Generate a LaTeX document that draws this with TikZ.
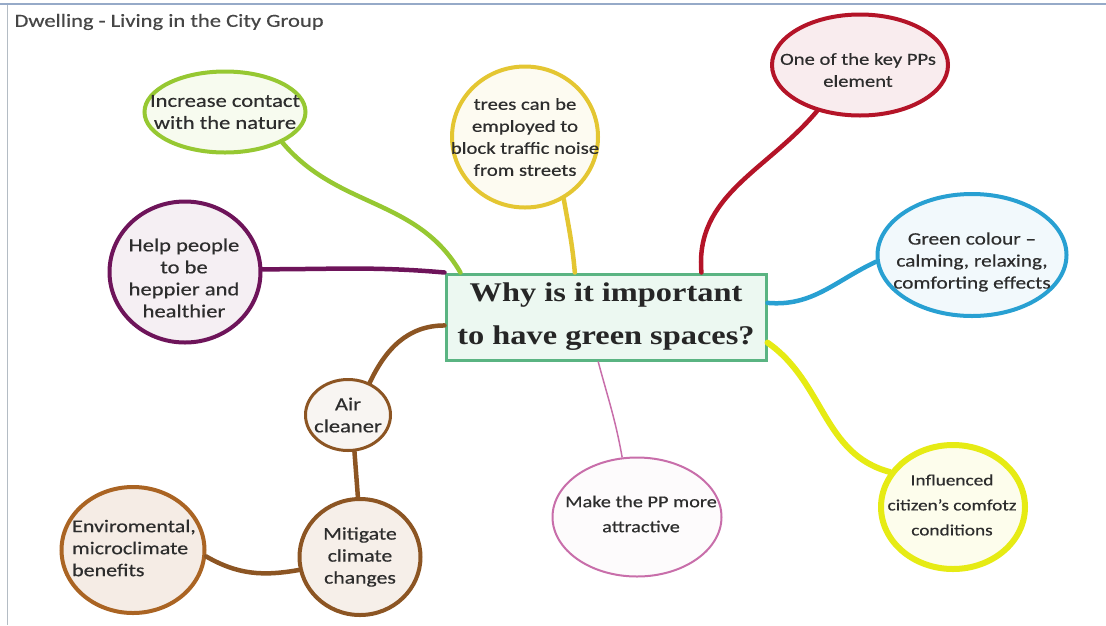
\documentclass[tikz,border=0pt]{standalone}
\usepackage{fontspec}
\usetikzlibrary{shapes.geometric}
\newfontfamily\handfont[FakeStretch=1.22, FakeBold=0.4]{Carlito}
\newfontfamily\headfont[FakeStretch=1.2]{Liberation Serif}
\definecolor{inkgray}{RGB}{45,45,45}
\definecolor{titlegray}{RGB}{70,70,70}
\definecolor{framegray}{RGB}{180,188,196}
\definecolor{frameblue}{RGB}{150,170,200}
\definecolor{boxgreen}{RGB}{90,180,130}
\definecolor{boxfill}{RGB}{236,248,241}
\definecolor{leafgreen}{RGB}{150,200,50}
\definecolor{gold}{RGB}{228,198,50}
\definecolor{berry}{RGB}{180,20,40}
\definecolor{sky}{RGB}{40,160,210}
\definecolor{plum}{RGB}{110,20,90}
\definecolor{bark}{RGB}{140,85,35}
\definecolor{rust}{RGB}{170,100,35}
\definecolor{orchid}{RGB}{200,110,170}
\definecolor{lemon}{RGB}{230,235,20}
\begin{document}
\begin{tikzpicture}[x=1pt, y=1pt,
    bubble/.style={ellipse, draw, line width=4pt, inner sep=0pt},
    txt/.style={font=\handfont\fontsize{#1}{22}\selectfont, align=center, text=inkgray},
    txt/.default=18.5,
    link/.style={line width=4.5pt, line cap=round}]
  \useasboundingbox (0,0) rectangle (1106,-625);
  % page frame
  \draw[framegray, line width=1pt] (7,-4) -- (7,-625);
  \draw[frameblue, line width=1.5pt] (0,-4) -- (1106,-4);
  \node[txt, anchor=west, text=titlegray] (title) at (11,-22) {Dwelling - Living in the City Group};

  % centre question
  \node[draw=boxgreen, fill=boxfill, line width=3pt, minimum width=320, minimum height=86,
        font=\headfont\bfseries\fontsize{27}{43}\selectfont, align=center, text=black!85] (box) at (606,-317)
        {Why is it important\\to have green spaces?};

  % bubbles
  \node[bubble, draw=leafgreen, fill=leafgreen!8, minimum width=161, minimum height=81] (nature) at (225,-112) {};
  \node[txt] (nature-t) at (nature) {Increase contact\\with the nature};
  \node[bubble, draw=gold, fill=gold!7, minimum width=146, minimum height=141] (trees) at (525,-137) {};
  \node[txt=17] (trees-t) at (trees) {trees can be\\employed to\\block traffic noise\\from streets};
  \node[bubble, draw=berry, fill=berry!8, minimum width=176, minimum height=101] (key) at (860,-65) {};
  \node[txt=16.9] (key-t) at (858,-70) {One of the key PPs\\element};
  \node[bubble, draw=sky, fill=sky!6, minimum width=189, minimum height=122] (colour) at (972,-255) {};
  \node[txt=17.5] (colour-t) at (972,-262) {Green colour –\\calming, relaxing,\\comforting effects};
  \node[bubble, draw=plum, fill=plum!7, minimum width=151, minimum height=141] (happy) at (185,-272) {};
  \node[txt] (happy-t) at (184,-278) {Help people\\to be\\heppier and\\healthier};
  \node[bubble, draw=bark, fill=bark!6, line width=3pt, minimum width=85, minimum height=71] (air) at (348,-415) {};
  \node[txt] (air-t) at (air) {Air\\cleaner};
  \node[bubble, draw=bark, fill=rust!10, minimum width=121, minimum height=116] (mit) at (360,-557) {};
  \node[txt=17.8] (mit-t) at (mit) {Mitigate\\climate\\changes};
  \node[bubble, draw=rust, fill=rust!12, minimum width=143, minimum height=126] (env) at (133,-550) {};
  \node[txt=18, align=left] (env-t) at (134,-548) {Enviromental,\\microclimate\\benefits};
  \node[bubble, draw=orchid, fill=orchid!3, line width=2pt, minimum width=169, minimum height=119] (pp) at (637,-517) {};
  \node[txt=16.6, font=\handfont\fontsize{16.6}{25}\selectfont] (pp-t) at (641,-514) {Make the PP more\\attractive};
  \node[bubble, draw=lemon, fill=lemon!8, line width=6pt, minimum width=144, minimum height=124] (comfort) at (953,-507) {};
  \node[txt=15.8, font=\handfont\fontsize{15.8}{25}\selectfont] (comfort-t) at (952,-505) {Influenced\\citizen’s comfotz\\conditions};

  % connectors
  \draw[link, leafgreen] (nature.-28) to[out=-50, in=120] (box.163);
  \draw[link, gold] (trees.-58) to[out=-80, in=95] (box.125);
  \draw[link, berry] (key.-133) to[out=-130, in=95] (box.25);
  \draw[link, sky] (box.5) to[out=-5, in=205] (colour.184);
  \draw[link, plum] (happy.2) to[out=0, in=175] (box.north west);
  \draw[link, bark] (box.183) to[out=180, in=65] (air.56);
  \draw[link, bark] (air.-80) -- (mit.92);
  \draw[link, bark] (env.-5) to[out=-30, in=190] (mit.192);
  \draw[line width=1.5pt, orchid] (box.-100) to[out=-75, in=100] (pp.104);
  \draw[link, lemon, line width=6pt] (box.-9) to[out=-35, in=165] (comfort.151);
\end{tikzpicture}
\end{document}
